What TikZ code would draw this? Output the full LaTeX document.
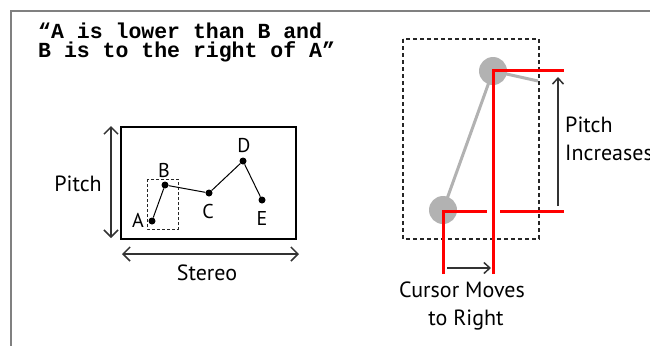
\documentclass[tikz,border=0pt]{standalone}
\usepackage{fontspec}
\setmainfont{PT Sans}
\newfontfamily\quotefont{Liberation Mono}
\usetikzlibrary{arrows.meta}
\tikzset{
  frameline/.style={
    draw=gray,
    line width=2pt
  },
  pt/.style={
    shape=circle,
    fill,
    inner sep=0pt,
    minimum size=7pt
  },
  ball/.style={
    shape=circle,
    fill=gray!60,
    inner sep=0pt,
    minimum size=28pt
  },
  lbl/.style={
    inner sep=0pt,
    anchor=base,
    font=\fontsize{22}{24}\selectfont
  },
  letter/.style={
    inner sep=0pt,
    anchor=base,
    font=\fontsize{20}{24}\selectfont
  },
  quote/.style={
    inner sep=0pt,
    anchor=base west,
    align=left,
    font=\quotefont\bfseries\fontsize{21.5}{19}\selectfont
  },
  boxline/.style={
    black!85,
    dashed,
    dash pattern=on 4pt off 3pt,
    line width=1.3pt
  },
  grayline/.style={
    draw=gray!60,
    line width=3pt
  },
  redline/.style={
    draw=red,
    line width=3pt
  },
  bothways/.style={
    black!80,
    line width=1.5pt,
    {Straight Barb[length=7pt,width=14pt]}-{Straight Barb[length=7pt,width=14pt]}
  },
  oneway/.style={
    black!80,
    line width=1.5pt,
    -{Straight Barb[length=6pt,width=11pt]}
  }
}
\begin{document}
\begin{tikzpicture}[x=1pt,y=-1pt]
    \useasboundingbox (0,0) rectangle (650,346);
    % frame
    \draw[frameline] (650,11) -- (11,11) -- (11,346);
    \node[quote] (quote) at (38,57) {“A is lower than B and\\B is to the right of A”};
    % left panel
    \draw[line width=1.5pt] (121,127) rectangle (296,239);
    \draw[boxline, line width=1pt, dash pattern=on 3pt off 2pt] (147,179) rectangle (178,229);
    \node[pt] (A) at (152,221) {};
    \node[pt] (B) at (165,185) {};
    \node[pt] (C) at (209,193) {};
    \node[pt] (D) at (243,161) {};
    \node[pt] (E) at (262,200) {};
    \draw[line width=1pt] (A) -- (B) -- (C) -- (D) -- (E);
    \node[letter] (labA) at (138,227) {A};
    \node[letter] (labB) at (164,177) {B};
    \node[letter] (labC) at (208,218) {C};
    \node[letter] (labD) at (244,152) {D};
    \node[letter] (labE) at (262,225) {E};
    \coordinate (ptop) at (111,126);
    \coordinate (pbot) at (111,238);
    \draw[bothways] (ptop) -- (pbot);
    \node[lbl] (pitch) at (78,191) {Pitch};
    \coordinate (sleft) at (122,254);
    \coordinate (sright) at (299,254);
    \draw[bothways] (sleft) -- (sright);
    \node[lbl] (stereo) at (207,280) {Stereo};
    % right panel
    \draw[boxline] (403,39) rectangle (539,239);
    \coordinate (exit) at (538,81);
    \node[ball] (hi) at (493,71) {};
    \node[ball] (lo) at (443,210) {};
    \draw[grayline] (lo.center) -- (hi.center) -- (exit);
    \draw[redline] (493,274) |- (564,70);
    \draw[redline] (443,274) |- (487,211);
    \draw[redline] (500,211) -- (564,211);
    \coordinate (upstart) at (558,206);
    \coordinate (upend) at (558,77);
    \draw[oneway] (upstart) -- (upend);
    \node[lbl, anchor=base west] (pitchup) at (565,132) {Pitch};
    \node[lbl, anchor=base west] (increases) at (565,160) {Increases};
    \coordinate (mvstart) at (447,268);
    \coordinate (mvend) at (491,268);
    \draw[oneway] (mvstart) -- (mvend);
    \node[lbl] (cursor) at (462,297) {Cursor Moves};
    \node[lbl] (toright) at (466,325) {to Right};
\end{tikzpicture}
\end{document}
